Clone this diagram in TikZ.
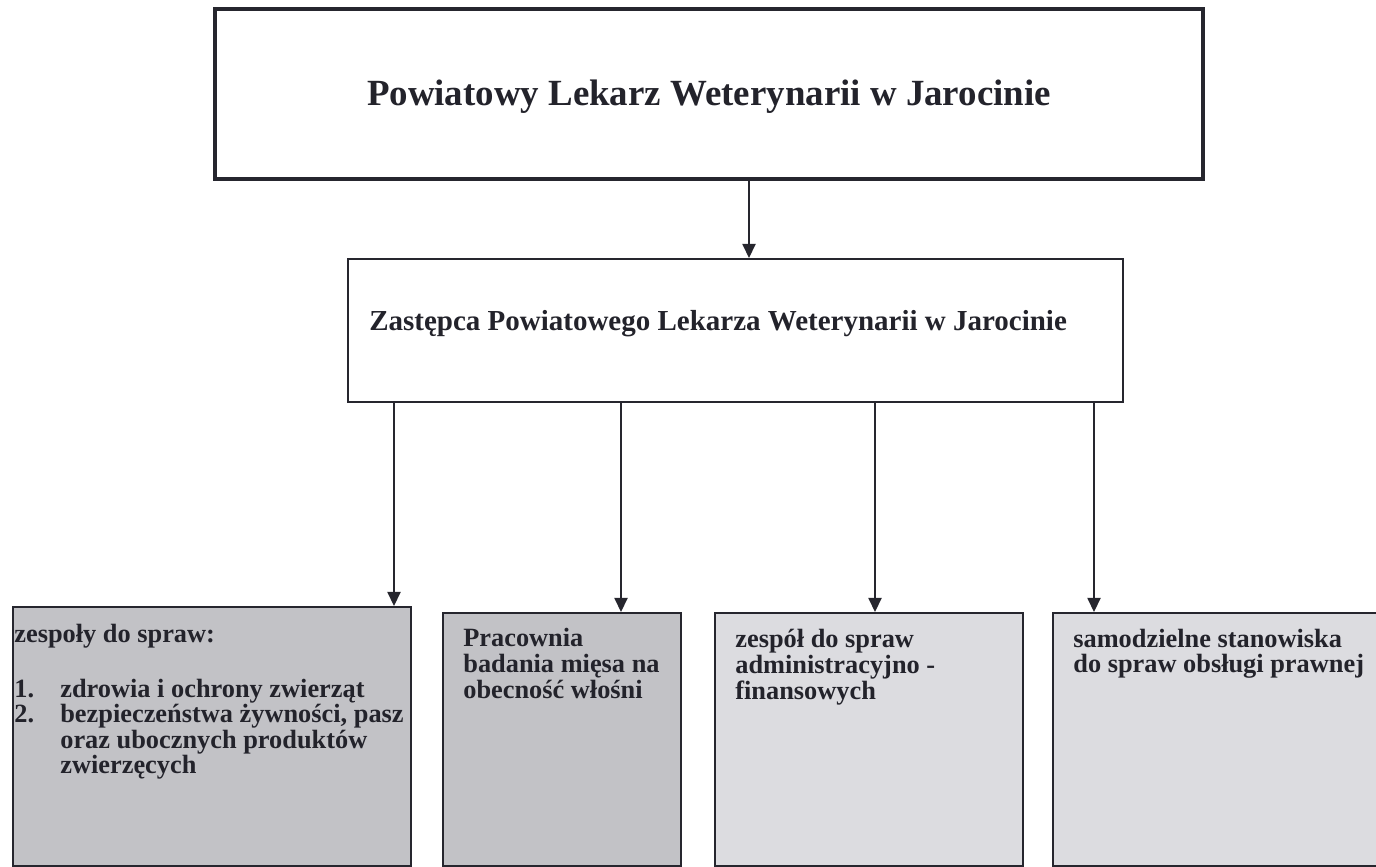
\documentclass[tikz,border=0pt]{standalone}
\usepackage{fontspec}
\setmainfont{Liberation Serif}
\usetikzlibrary{arrows.meta,positioning}

\definecolor{ramka}{HTML}{26262E}
\definecolor{ciemny}{HTML}{C2C2C6}
\definecolor{jasny}{HTML}{DCDCE0}
\definecolor{tekst}{HTML}{23232B}

\tikzset{
  kierownik/.style={draw=ramka, line width=2.3pt, fill=white, anchor=north west, inner sep=0pt},
  komorka/.style={draw=ramka, line width=1.1pt, anchor=north west, inner sep=0pt},
  strzalka/.style={draw=ramka, line width=0.8pt, -{Triangle[length=8pt,width=7.5pt]}},
  opis/.style={anchor=base west, inner sep=0pt, text=tekst, font=\bfseries\fontsize{15}{15}\selectfont},
}

\begin{document}
\begin{tikzpicture}[x=0.02cm, y=-0.02cm]
    \clip (0,0) rectangle (1376,866);

    % Nodes
    \node[kierownik, minimum width=19.76cm, minimum height=3.4cm] (Powiatowy) at (213,7) {};
    \node[anchor=base, inner sep=0pt, text=tekst, font=\bfseries\fontsize{21}{24}\selectfont] (PowiatowyTekst) at ([yshift=-0.22cm]Powiatowy.center) {Powiatowy Lekarz Weterynarii w Jarocinie};

    \node[komorka, line width=1.3pt, minimum width=15.5cm, minimum height=2.86cm] (Zastepca) at (347,258) {};
    \node[opis, font=\bfseries\fontsize{16.5}{19}\selectfont] (ZastepcaTekst) at (369,330) {Zastępca Powiatowego Lekarza Weterynarii w Jarocinie};

    \node[komorka, fill=ciemny, minimum width=7.96cm, minimum height=5.18cm] (Zespoly) at (12,606) {};
    \node[komorka, fill=ciemny, minimum width=4.76cm, minimum height=5.06cm] (Pracownia) at (442,612) {};
    \node[komorka, fill=jasny, minimum width=6.16cm, minimum height=5.06cm] (Administracja) at (714,612) {};
    \node[komorka, fill=jasny, minimum width=6.8cm, minimum height=5.06cm] (Prawne) at (1052,612) {};

    % Texts
    \node[opis, font=\bfseries\fontsize{15}{13.6}\selectfont] (ZespolyTekst) at (14,642) {\begin{tabular}[t]{@{}p{0.92cm}@{}l@{}}
        \multicolumn{2}{@{}l@{}}{zespoły do spraw:}\\[0.6cm]
        1. & zdrowia i ochrony zwierząt\\
        2. & bezpieczeństwa żywności, pasz\\
           & oraz ubocznych produktów\\
           & zwierzęcych
    \end{tabular}};
    \node[opis] (PracowniaTekst) at (463,646) {\begin{tabular}[t]{@{}l@{}}Pracownia\\ badania mięsa na\\ obecność włośni\end{tabular}};
    \node[opis] (AdministracjaTekst) at (735,647) {\begin{tabular}[t]{@{}l@{}}zespół do spraw\\ administracyjno -\\ finansowych\end{tabular}};
    \node[opis, font=\bfseries\fontsize{15}{14.2}\selectfont] (PrawneTekst) at (1073,647) {\begin{tabular}[t]{@{}l@{}}samodzielne stanowiska\\ do spraw obsługi prawnej\end{tabular}};

    % Edges
    \draw[strzalka] (Powiatowy.south -| 749,0) -- (Zastepca.north -| 749,0);

    \draw[strzalka] (Zastepca.south -| 394,0) -- (Zespoly.north -| 394,0);
    \draw[strzalka] (Zastepca.south -| 621,0) -- (Pracownia.north -| 621,0);
    \draw[strzalka] (Zastepca.south -| 875,0) -- (Administracja.north -| 875,0);
    \draw[strzalka] (Zastepca.south -| 1094,0) -- (Prawne.north -| 1094,0);
\end{tikzpicture}
\end{document}
